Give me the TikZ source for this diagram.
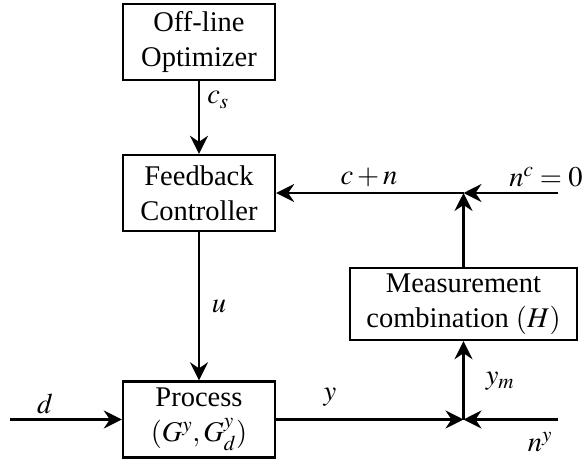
\documentclass[tikz,border=0pt]{standalone}
\usepackage{mathptmx}
\usepackage{fontspec}
\setmainfont{Liberation Serif}
\usetikzlibrary{arrows.meta}
\begin{document}
\begin{tikzpicture}[x=1pt,y=-1pt,
  every node/.style={font=\fontsize{28.5}{35}\selectfont},
  block/.style={draw, line width=2.4pt, align=center, inner sep=0pt,
                minimum width=152pt, minimum height=76pt},
  sig/.style={line width=2.4pt, -{Stealth[length=18pt,width=18pt,inset=6pt]}},
  lbl/.style={inner sep=0pt}]
  \useasboundingbox (0,0) rectangle (586,463);

  % blocks
  \node[block] (opt)  at (199,42)    {Off-line\\Optimizer};
  \node[block] (ctrl) at (199,193)   {Feedback\\Controller};
  \node[block] (proc) at (199,419.5) {Process\\$(G^y,G^y_d)$};
  \node[block, minimum width=227pt, minimum height=72pt] (meas) at (463.5,304)
       {Measurement\\combination $(H)$};

  % junctions and free ends
  \coordinate (jt)   at (meas.north |- ctrl.east);
  \coordinate (jb)   at (meas.south |- proc.east);
  \coordinate (din)  at (10,419.5);
  \coordinate (ncin) at (558,193);
  \coordinate (nyin) at (558,419.5);

  % signals
  \draw[sig] (opt) -- (ctrl);
  \draw[sig] (ctrl) -- (proc);
  \draw[sig] (din) -- (proc);
  \draw[sig] (proc) -- (jb);
  \draw[sig] (nyin) -- (jb);
  \draw[sig] (jb) -- (meas);
  \draw[sig] (meas) -- (jt);
  \draw[sig] (ncin) -- (jt);
  \draw[sig] (jt) -- (ctrl.east);

  % signal labels
  \node[lbl] (lcs) at (218,100) {$c_s$};
  \node[lbl] (lu)  at (219,306) {$u$};
  \node[lbl] (lcn) at (369,177) {$c+n$};
  \node[lbl] (lnc) at (546,177) {$n^c=0$};
  \node[lbl] (lym) at (500,381) {$y_m$};
  \node[lbl] (ly)  at (330,397) {$y$};
  \node[lbl] (ld)  at (45,404)  {$d$};
  \node[lbl] (lny) at (540,442) {$n^y$};
\end{tikzpicture}
\end{document}
